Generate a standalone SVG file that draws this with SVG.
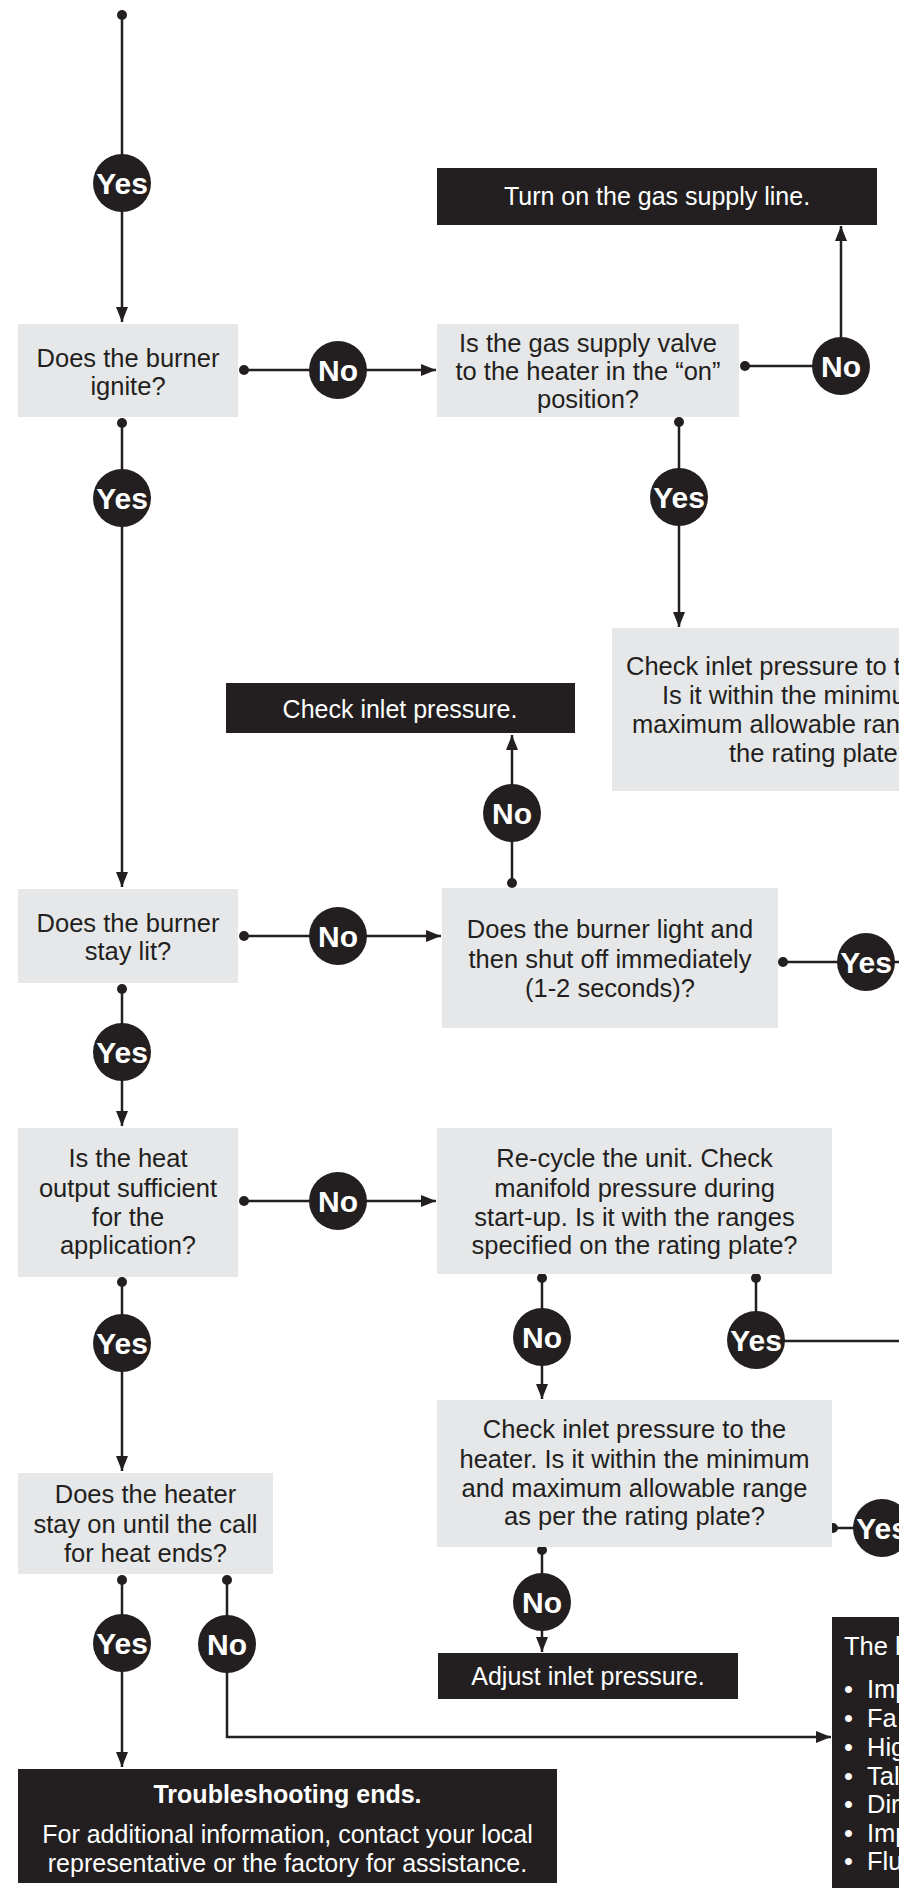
<svg xmlns="http://www.w3.org/2000/svg" width="899" height="1888" viewBox="0 0 899 1888">
<defs>
<style>
.q{fill:#e6e7e8}
.d{fill:#231f20}
.t{font-family:"Liberation Sans",Arial,Helvetica,sans-serif;font-size:25.5px;fill:#231f20;text-anchor:middle}
.w{font-family:"Liberation Sans",Arial,Helvetica,sans-serif;font-size:25px;fill:#ffffff;text-anchor:middle}
.ws{font-family:"Liberation Sans",Arial,Helvetica,sans-serif;font-size:25.5px;fill:#ffffff}
.ts{font-family:"Liberation Sans",Arial,Helvetica,sans-serif;font-size:25.5px;fill:#231f20}
.b{font-weight:bold}
.ln{fill:none;stroke:#231f20;stroke-width:2.5}
.dot{fill:#231f20}
.lc{fill:#231f20}
.lt{font-family:"Liberation Sans",Arial,Helvetica,sans-serif;font-size:30px;font-weight:bold;fill:#ffffff;text-anchor:middle}
</style>
<marker id="ah" markerUnits="userSpaceOnUse" markerWidth="16" markerHeight="12" refX="15" refY="6" orient="auto">
<path d="M0,0 L15,6 L0,12 z" fill="#231f20"/>
</marker>
</defs>
<rect width="899" height="1888" fill="#ffffff"/>

<g id="connectors">
<path class="ln" d="M122,15 V322" marker-end="url(#ah)"/>
<path class="ln" d="M244,370 H436" marker-end="url(#ah)"/>
<path class="ln" d="M745,366 H841 V226" marker-end="url(#ah)"/>
<path class="ln" d="M679,422 V627" marker-end="url(#ah)"/>
<path class="ln" d="M122,423 V887" marker-end="url(#ah)"/>
<path class="ln" d="M244,936 H441" marker-end="url(#ah)"/>
<path class="ln" d="M512,883 V735" marker-end="url(#ah)"/>
<path class="ln" d="M783,962 H899"/>
<path class="ln" d="M122,989 V1126" marker-end="url(#ah)"/>
<path class="ln" d="M244,1201 H436" marker-end="url(#ah)"/>
<path class="ln" d="M542,1278 V1399" marker-end="url(#ah)"/>
<path class="ln" d="M756,1278 V1341 H899"/>
<path class="ln" d="M833,1528 H899"/>
<path class="ln" d="M542,1550 V1652" marker-end="url(#ah)"/>
<path class="ln" d="M122,1282 V1471" marker-end="url(#ah)"/>
<path class="ln" d="M122,1580 V1767" marker-end="url(#ah)"/>
<path class="ln" d="M227,1580 V1737 H831" marker-end="url(#ah)"/>
<circle class="dot" cx="122" cy="15" r="5"/>
<circle class="dot" cx="244" cy="370" r="5"/>
<circle class="dot" cx="745" cy="366" r="5"/>
<circle class="dot" cx="679" cy="422" r="5"/>
<circle class="dot" cx="122" cy="423" r="5"/>
<circle class="dot" cx="244" cy="936" r="5"/>
<circle class="dot" cx="512" cy="883" r="5"/>
<circle class="dot" cx="783" cy="962" r="5"/>
<circle class="dot" cx="122" cy="989" r="5"/>
<circle class="dot" cx="244" cy="1201" r="5"/>
<circle class="dot" cx="542" cy="1278" r="5"/>
<circle class="dot" cx="756" cy="1278" r="5"/>
<circle class="dot" cx="833" cy="1528" r="5"/>
<circle class="dot" cx="542" cy="1550" r="5"/>
<circle class="dot" cx="122" cy="1282" r="5"/>
<circle class="dot" cx="122" cy="1580" r="5"/>
<circle class="dot" cx="227" cy="1580" r="5"/>
</g>

<g id="labels">
<g id="l1"><circle class="lc" cx="122" cy="183" r="29"/><text class="lt" x="122" y="194">Yes</text></g>
<g id="l2"><circle class="lc" cx="338" cy="370" r="29"/><text class="lt" x="338" y="381">No</text></g>
<g id="l3"><circle class="lc" cx="841" cy="366" r="29"/><text class="lt" x="841" y="377">No</text></g>
<g id="l4"><circle class="lc" cx="679" cy="497" r="29"/><text class="lt" x="679" y="508">Yes</text></g>
<g id="l5"><circle class="lc" cx="122" cy="498" r="29"/><text class="lt" x="122" y="509">Yes</text></g>
<g id="l6"><circle class="lc" cx="338" cy="936" r="29"/><text class="lt" x="338" y="947">No</text></g>
<g id="l7"><circle class="lc" cx="512" cy="813" r="29"/><text class="lt" x="512" y="824">No</text></g>
<g id="l8"><circle class="lc" cx="866" cy="962" r="29"/><text class="lt" x="866" y="973">Yes</text></g>
<g id="l9"><circle class="lc" cx="122" cy="1052" r="29"/><text class="lt" x="122" y="1063">Yes</text></g>
<g id="l10"><circle class="lc" cx="338" cy="1201" r="29"/><text class="lt" x="338" y="1212">No</text></g>
<g id="l11"><circle class="lc" cx="542" cy="1337" r="29"/><text class="lt" x="542" y="1348">No</text></g>
<g id="l12"><circle class="lc" cx="756" cy="1340" r="29"/><text class="lt" x="756" y="1351">Yes</text></g>
<g id="l13"><circle class="lc" cx="882" cy="1528" r="29"/><text class="lt" x="882" y="1539">Yes</text></g>
<g id="l14"><circle class="lc" cx="542" cy="1602" r="29"/><text class="lt" x="542" y="1613">No</text></g>
<g id="l15"><circle class="lc" cx="122" cy="1343" r="29"/><text class="lt" x="122" y="1354">Yes</text></g>
<g id="l16"><circle class="lc" cx="122" cy="1643" r="29"/><text class="lt" x="122" y="1654">Yes</text></g>
<g id="l17"><circle class="lc" cx="227" cy="1644" r="29"/><text class="lt" x="227" y="1655">No</text></g>
</g>

<g id="n-ignite">
<rect class="q" x="18" y="324" width="220" height="93"/>
<text class="t" x="128" y="367">Does the burner</text>
<text class="t" x="128" y="395">ignite?</text>
</g>

<g id="n-valve">
<rect class="q" x="437" y="324" width="302" height="93"/>
<text class="t" x="588" y="352">Is the gas supply valve</text>
<text class="t" x="588" y="380">to the heater in the “on”</text>
<text class="t" x="588" y="408">position?</text>
</g>

<g id="n-turnon">
<rect class="d" x="437" y="168" width="440" height="57"/>
<text class="w" x="657" y="205">Turn on the gas supply line.</text>
</g>

<g id="n-inlet-top">
<rect class="q" x="612" y="628" width="300" height="163"/>
<text class="ts" x="626" y="675">Check inlet pressure to t</text>
<text class="ts" x="662" y="704">Is it within the minimu</text>
<text class="ts" x="632" y="733">maximum allowable ran</text>
<text class="ts" x="729" y="762">the rating plate?</text>
</g>

<g id="n-stay-lit">
<rect class="q" x="18" y="889" width="220" height="94"/>
<text class="t" x="128" y="932">Does the burner</text>
<text class="t" x="128" y="960">stay lit?</text>
</g>

<g id="n-check-inlet">
<rect class="d" x="226" y="683" width="349" height="50"/>
<text class="w" x="400" y="718">Check inlet pressure.</text>
</g>

<g id="n-light-off">
<rect class="q" x="442" y="888" width="336" height="140"/>
<text class="t" x="610" y="938">Does the burner light and</text>
<text class="t" x="610" y="968">then shut off immediately</text>
<text class="t" x="610" y="997">(1-2 seconds)?</text>
</g>

<g id="n-heat-output">
<rect class="q" x="18" y="1128" width="220" height="149"/>
<text class="t" x="128" y="1167">Is the heat</text>
<text class="t" x="128" y="1197">output sufficient</text>
<text class="t" x="128" y="1226">for the</text>
<text class="t" x="128" y="1254">application?</text>
</g>

<g id="n-recycle">
<rect class="q" x="437" y="1128" width="395" height="146"/>
<text class="t" x="634.5" y="1167">Re-cycle the unit. Check</text>
<text class="t" x="634.5" y="1197">manifold pressure during</text>
<text class="t" x="634.5" y="1226">start-up. Is it with the ranges</text>
<text class="t" x="634.5" y="1254">specified on the rating plate?</text>
</g>

<g id="n-inlet-mid">
<rect class="q" x="437" y="1400" width="395" height="147"/>
<text class="t" x="634.5" y="1438">Check inlet pressure to the</text>
<text class="t" x="634.5" y="1468">heater. Is it within the minimum</text>
<text class="t" x="634.5" y="1497">and maximum allowable range</text>
<text class="t" x="634.5" y="1525">as per the rating plate?</text>
</g>

<g id="n-adjust">
<rect class="d" x="438" y="1653" width="300" height="46"/>
<text class="w" x="588" y="1685">Adjust inlet pressure.</text>
</g>

<g id="n-stay-on">
<rect class="q" x="18" y="1473" width="255" height="101"/>
<text class="t" x="145.5" y="1503">Does the heater</text>
<text class="t" x="145.5" y="1533">stay on until the call</text>
<text class="t" x="145.5" y="1562">for heat ends?</text>
</g>

<g id="n-ends">
<rect class="d" x="18" y="1769" width="539" height="114"/>
<text class="w b" x="287.5" y="1803">Troubleshooting ends.</text>
<text class="w" x="287.5" y="1843">For additional information, contact your local</text>
<text class="w" x="287.5" y="1872">representative or the factory for assistance.</text>
</g>

<g id="n-causes">
<rect class="d" x="832" y="1617" width="80" height="280"/>
<text class="ws" x="844" y="1655">The h</text>
<text class="ws" x="844" y="1698">•</text><text class="ws" x="867" y="1698">Imp</text>
<text class="ws" x="844" y="1727">•</text><text class="ws" x="867" y="1727">Fa</text>
<text class="ws" x="844" y="1756">•</text><text class="ws" x="867" y="1756">Hig</text>
<text class="ws" x="844" y="1785">•</text><text class="ws" x="867" y="1785">Tal</text>
<text class="ws" x="844" y="1813">•</text><text class="ws" x="867" y="1813">Dir</text>
<text class="ws" x="844" y="1842">•</text><text class="ws" x="867" y="1842">Imp</text>
<text class="ws" x="844" y="1870">•</text><text class="ws" x="867" y="1870">Flu</text>
</g>
</svg>
